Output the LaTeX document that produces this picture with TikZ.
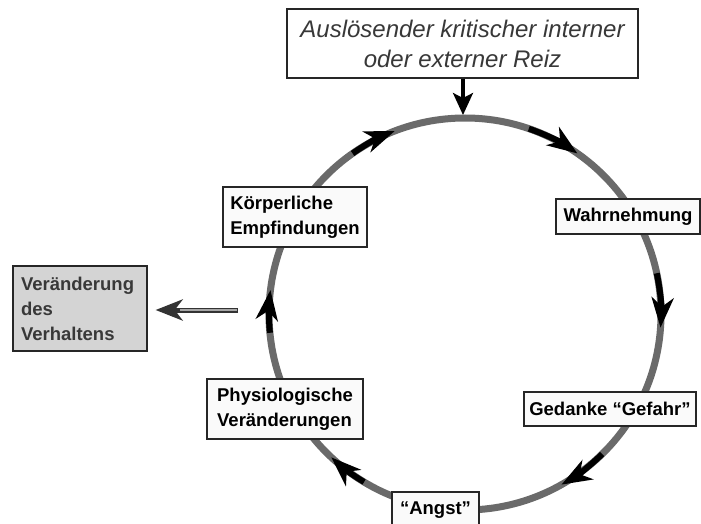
\documentclass[tikz,border=0pt]{standalone}
\usepackage{fontspec}
\setmainfont{Liberation Sans}
\usetikzlibrary{arrows.meta,calc}
\definecolor{ringgray}{HTML}{6A6A6A}
\definecolor{boxfill}{HTML}{FAFAFA}
\definecolor{verhfill}{HTML}{D4D4D4}
\definecolor{darktext}{HTML}{383838}
\tikzset{
  ring/.style={draw=ringgray, line width=7pt},
  stagebox/.style={draw=black!85, line width=1.2pt, fill=boxfill, inner sep=0pt, align=left,
    font=\bfseries\fontsize{18.5}{25}\selectfont},
  trigbox/.style={draw=black!85, line width=1.2pt, fill=white, inner sep=0pt, align=center,
    text=darktext, font=\itshape\fontsize{24}{30}\selectfont},
  verhbox/.style={stagebox, fill=verhfill, text=darktext},
  arrowseg/.style={draw=black, line width=6pt, -{Stealth[length=30pt,width=22pt,inset=9pt]}},
  toparrow/.style={draw=black, line width=3.2pt, -{Stealth[length=22pt,width=20pt,inset=5pt]}},
}
\begin{document}
\begin{tikzpicture}[x=1pt,y=-1pt]
\useasboundingbox (0,0) rectangle (701,524);
\coordinate (c) at (465,314);
\draw[ring] (c) circle[radius=196];
% arrow segments on the ring (angles clockwise on screen)
\foreach \s/\e in {-125/-111, -71/-55, -12/4, 45.6/60.5, 121/133, 174.5/187} {
  \draw[arrowseg] ($(c)+(\s:196)$) arc[start angle=\s, end angle=\e, radius=196];
}
% nodes
\node[trigbox, minimum width=351pt, minimum height=69pt] (trig) at (462.5,43.5)
  {Auslösender kritischer interner\\oder externer Reiz};
\node[stagebox, minimum width=144pt, minimum height=60pt] (koerp) at (295,217)
  {Körperliche\\Empfindungen};
\node[stagebox, minimum width=144pt, minimum height=35pt, align=center] (wahr) at (628,216.5)
  {Wahrnehmung};
\node[stagebox, minimum width=172pt, minimum height=34pt, align=center] (ged) at (610,409)
  {Gedanke “Gefahr”};
\node[stagebox, minimum width=87pt, minimum height=36pt, align=center] (angst) at (435.5,510)
  {“Angst”};
\node[stagebox, minimum width=156pt, minimum height=60pt] (phys) at (285,409)
  {Physiologische\\Veränderungen};
\node[verhbox, minimum width=134pt, minimum height=85pt, text width=118pt] (verh) at (80,308.5)
  {Veränderung\\des\\Verhaltens};
% trigger arrow
\coordinate (ctop) at (463,115);
\draw[toparrow] (trig.south -| ctop) -- (ctop);
% behaviour arrow
\coordinate (lstart) at (238,310);
\coordinate (lmid) at (180,310);
\draw[draw=black!80, line width=5pt, -{Stealth[length=27pt,width=21pt,inset=8pt]}]
  (lstart) -- ([xshift=8pt]lstart -| verh.east);
\draw[draw=gray!70, line width=2.2pt] ([xshift=-0.8pt]lstart) -- (lmid);
\end{tikzpicture}
\end{document}
